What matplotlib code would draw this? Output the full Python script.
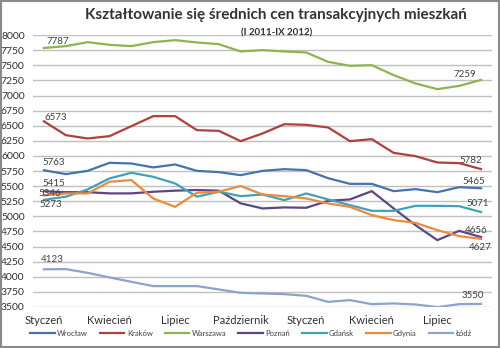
import matplotlib
matplotlib.use("Agg")
import matplotlib.pyplot as plt
from matplotlib.patches import Rectangle

plt.rcParams["font.family"] = ["Lato", "DejaVu Sans"]

# monthly average transaction prices, I 2011 - IX 2012
months = list(range(21))
tick_pos = [0, 3, 6, 9, 12, 15, 18]
tick_labels = ["Styczeń", "Kwiecień", "Lipiec", "Październik",
               "Styczeń", "Kwiecień", "Lipiec"]

wroclaw = [5763, 5699, 5753, 5886, 5875, 5810, 5859, 5753, 5732, 5682, 5753,
           5781, 5765, 5632, 5538, 5538, 5417, 5450, 5400, 5483, 5465]
krakow = [6573, 6344, 6289, 6328, 6493, 6659, 6659, 6427, 6416, 6245, 6372,
          6526, 6515, 6472, 6245, 6278, 6051, 5997, 5892, 5881, 5782]
warszawa = [7787, 7818, 7884, 7840, 7818, 7884, 7917, 7879, 7851, 7730, 7752,
            7730, 7713, 7558, 7492, 7503, 7338, 7200, 7106, 7160, 7259]
poznan = [5415, 5400, 5400, 5380, 5380, 5407, 5425, 5436, 5425, 5215, 5131,
          5148, 5142, 5257, 5280, 5417, 5131, 4854, 4606, 4760, 4656]
gdansk = [5273, 5325, 5446, 5628, 5721, 5655, 5545, 5325, 5408, 5334, 5362,
          5268, 5379, 5280, 5185, 5091, 5091, 5174, 5174, 5168, 5071]
gdynia = [5346, 5379, 5379, 5573, 5600, 5296, 5157, 5391, 5408, 5502, 5362,
          5334, 5296, 5213, 5157, 5020, 4937, 4892, 4771, 4672, 4627]
lodz = [4123, 4126, 4065, 3988, 3916, 3845, 3845, 3845, 3790, 3734, 3723,
        3712, 3684, 3584, 3613, 3546, 3558, 3541, 3497, 3546, 3550]

series = [
    ("Wrocław", wroclaw, "#4373b0", (9.5, 7.5), (-7, 7)),
    ("Kraków", krakow, "#b0403d", (11.5, 4), (-10.5, 9)),
    ("Warszawa", warszawa, "#8fb34f", (14, 7), (-16, 5)),
    ("Poznań", poznan, "#5e4585", (9.5, 8), (-5, 7)),
    ("Gdańsk", gdansk, "#3ea3b8", (7, -4.5), (-3.5, 8.6)),
    ("Gdynia", gdynia, "#ee8a3a", (5.5, 1.6), (-1, -8.3)),
    ("Łódź", lodz, "#8ba4cc", (8, 10), (-8.5, 8)),
]

PX = 72 / 100  # pixel -> point at dpi 100
LABEL = "#404040"

fig = plt.figure(figsize=(5, 3.48), dpi=100)
ax = fig.add_axes([0.066, 0.118, 0.918, 0.781])

for name, vals, color, off0, off1 in series:
    ax.plot(months, vals, color=color, lw=1.6, label=name,
            solid_joinstyle="round")
    for i, off in ((0, off0), (len(vals) - 1, off1)):
        ax.annotate(str(vals[i]), (months[i], vals[i]),
                    xytext=(off[0] * PX, off[1] * PX), textcoords="offset points",
                    ha="center", va="center", fontsize=7, color=LABEL)

ax.set_xlim(-0.5, 20.5)
ax.set_ylim(3500, 8000)
ax.set_yticks(range(3500, 8001, 250))
ax.set_xticks(tick_pos)
ax.set_xticklabels(tick_labels)
ax.grid(axis="y", color="#c0c0c0", lw=1)
ax.set_axisbelow(True)
ax.tick_params(length=0, labelsize=7.5, colors="#303030")
ax.tick_params(axis="x", pad=6, labelsize=8)
ax.tick_params(axis="y", pad=6)
for s in ax.spines.values():
    s.set_visible(False)

fig.text(0.552, 0.957, "Kształtowanie się średnich cen transakcyjnych mieszkań",
         ha="center", va="center", fontsize=11, fontweight="bold", color="#333333")
fig.text(0.554, 0.905, "(I 2011-IX 2012)", ha="center", va="center",
         fontsize=7, fontweight="bold", color="#333333")

fig.legend(loc="center", bbox_to_anchor=(0.502, 0.043), ncol=7, frameon=False,
           fontsize=5.5, handlelength=3.2, columnspacing=1.6, handletextpad=0.3,
           labelcolor="#404040")

fig.patches.append(Rectangle((0.002, 0.003), 0.996, 0.994, transform=fig.transFigure,
                             fill=False, edgecolor="#8a8a8a", lw=1.5))

fig.savefig("out.png", dpi=100)
